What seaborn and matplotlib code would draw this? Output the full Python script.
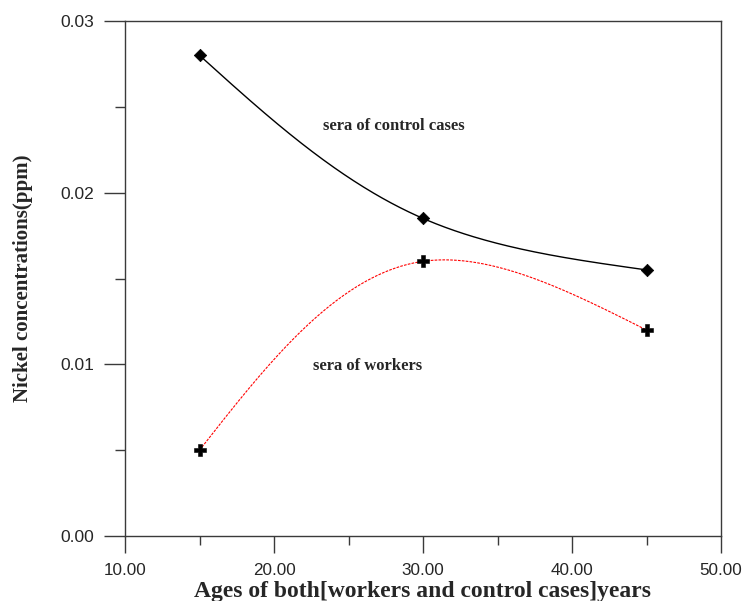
import numpy as np
import pandas as pd
import matplotlib
matplotlib.use("Agg")
import matplotlib.pyplot as plt
from matplotlib.ticker import MultipleLocator, FixedFormatter, FormatStrFormatter
import seaborn as sns

# Nickel concentrations (ppm) measured in each age group
ages = [15, 30, 45]
control_ppm = [0.028, 0.0185, 0.0155]
workers_ppm = [0.005, 0.016, 0.012]

x_ticks = [10, 20, 30, 40, 50]
y_ticks = [0.0, 0.01, 0.02, 0.03]
y_tick_labels = ["0.00", "0.01", "0.02", "0.03"]


def natural_spline(t, v, tt):
    """Evaluate the natural cubic spline through (t, v) at tt."""
    t = np.asarray(t, float)
    v = np.asarray(v, float)
    k = len(t)
    h = np.diff(t)
    A = np.zeros((k, k))
    b = np.zeros(k)
    A[0, 0] = A[-1, -1] = 1.0
    for i in range(1, k - 1):
        A[i, i - 1] = h[i - 1]
        A[i, i] = 2 * (h[i - 1] + h[i])
        A[i, i + 1] = h[i]
        b[i] = 6 * ((v[i + 1] - v[i]) / h[i] - (v[i] - v[i - 1]) / h[i - 1])
    M = np.linalg.solve(A, b)
    out = np.empty(len(tt))
    for j, x in enumerate(tt):
        i = min(np.searchsorted(t, x, side="right") - 1, k - 2)
        t1 = t[i + 1] - x
        t0 = x - t[i]
        out[j] = ((M[i] * t1 ** 3 + M[i + 1] * t0 ** 3) / (6 * h[i])
                  + (v[i] / h[i] - M[i] * h[i] / 6) * t1
                  + (v[i + 1] / h[i] - M[i + 1] * h[i] / 6) * t0)
    return out


def smooth_curve(ax, xs, ys, n=300):
    """Chord-length parametric spline through the points, in screen space."""
    disp = ax.transData.transform(np.column_stack([xs, ys]))
    seg = np.hypot(*np.diff(disp, axis=0).T)
    t = np.concatenate([[0.0], np.cumsum(seg)])
    tt = np.linspace(0, t[-1], n)
    curve = np.column_stack([natural_spline(t, disp[:, 0], tt),
                             natural_spline(t, disp[:, 1], tt)])
    data = ax.transData.inverted().transform(curve)
    return data[:, 0], data[:, 1]


sns.set_style("ticks")
plt.rcParams["font.family"] = ["Liberation Sans", "DejaVu Sans"]
serif = ["Liberation Serif", "DejaVu Serif"]

fig = plt.figure(figsize=(7.45, 6.01), dpi=100)
ax = fig.add_axes([125 / 745, 65 / 601, 596 / 745, 515 / 601])
ax.set_xlim(10, 50)
ax.set_ylim(0, 0.03)
fig.canvas.draw()

xc, yc = smooth_curve(ax, ages, control_ppm)
xw, yw = smooth_curve(ax, ages, workers_ppm)
control_curve = pd.DataFrame({"age": xc, "ppm": yc})
workers_curve = pd.DataFrame({"age": xw, "ppm": yw})
control_pts = pd.DataFrame({"age": ages, "ppm": control_ppm})
workers_pts = pd.DataFrame({"age": ages, "ppm": workers_ppm})

sns.lineplot(data=control_curve, x="age", y="ppm", sort=False, estimator=None,
             color="black", linewidth=1.0, ax=ax, legend=False)
sns.lineplot(data=workers_curve, x="age", y="ppm", sort=False, estimator=None,
             color="red", linewidth=0.8, ax=ax, legend=False)
ax.lines[-1].set_dashes([2.4, 1.1])

sns.scatterplot(data=control_pts, x="age", y="ppm", marker="D", s=40,
                color="black", edgecolor="black", zorder=5, ax=ax, legend=False)
sns.scatterplot(data=workers_pts, x="age", y="ppm", marker="P", s=70,
                color="black", edgecolor="black", linewidth=0.4, zorder=5,
                ax=ax, legend=False)

ax.set_xlim(10, 50)
ax.set_ylim(0, 0.03)
ax.set_xticks(x_ticks)
ax.set_yticks(y_ticks)
ax.xaxis.set_major_formatter(FormatStrFormatter("%.2f"))
ax.yaxis.set_major_formatter(FixedFormatter(y_tick_labels))
ax.xaxis.set_minor_locator(MultipleLocator(5))
ax.yaxis.set_minor_locator(MultipleLocator(0.005))

spine_col = "#3a3a3a"
for sp in ax.spines.values():
    sp.set_visible(True)
    sp.set_color(spine_col)
    sp.set_linewidth(1.0)

ax.tick_params(axis="x", which="major", direction="out", length=12.2,
               width=1.0, color=spine_col, pad=7, labelsize=12.3)
ax.tick_params(axis="x", which="minor", direction="out", length=6.5,
               width=1.0, color=spine_col)
ax.tick_params(axis="y", which="major", direction="out", length=15,
               width=1.0, color=spine_col, pad=7, labelsize=12.5)
ax.tick_params(axis="y", which="minor", direction="out", length=7.2,
               width=1.0, color=spine_col)

ax.set_xlabel("Ages of both[workers and control cases]years", family=serif,
              fontweight="bold", fontsize=17)
ax.set_ylabel("Nickel concentrations(ppm)", family=serif,
              fontweight="bold", fontsize=15)
ax.xaxis.set_label_coords(0.5, -0.0874)
ax.yaxis.set_label_coords(-0.155, 0.5)

ax.text(28.05, 0.0239, "sera of control cases", family=serif,
        fontweight="bold", fontsize=12, ha="center", va="center")
ax.text(26.26, 0.00988, "sera of workers", family=serif,
        fontweight="bold", fontsize=12, ha="center", va="center")

fig.savefig("out.png", dpi=100, facecolor="white")
